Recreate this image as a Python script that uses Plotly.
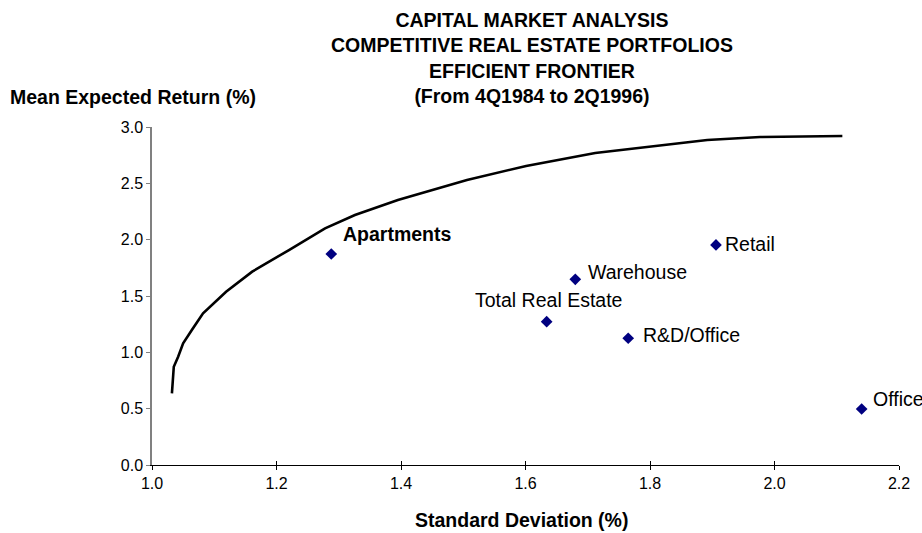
import plotly.graph_objects as go

# Efficient frontier (std dev %, mean return %)
frontier_sd = [1.032, 1.035, 1.042, 1.050, 1.064, 1.082, 1.119, 1.161, 1.220, 1.278,
               1.326, 1.395, 1.506, 1.601, 1.712, 1.892, 1.977, 2.109]
frontier_ret = [0.636, 0.872, 0.961, 1.080, 1.198, 1.346, 1.538, 1.716, 1.908, 2.101,
                2.219, 2.352, 2.530, 2.654, 2.769, 2.885, 2.911, 2.920]

# Portfolios
names = ["Apartments", "Retail", "Warehouse", "Total Real Estate", "R&D/Office", "Office"]
sd = [1.288, 1.906, 1.680, 1.634, 1.765, 2.140]
ret = [1.873, 1.953, 1.648, 1.272, 1.125, 0.497]

x_ticks = [1.0, 1.2, 1.4, 1.6, 1.8, 2.0, 2.2]
y_ticks = [0.0, 0.5, 1.0, 1.5, 2.0, 2.5, 3.0]

FONT = "Liberation Sans, Arial, sans-serif"

fig = go.Figure()
fig.add_trace(go.Scatter(x=frontier_sd, y=frontier_ret, mode="lines",
                         line=dict(color="black", width=2.6), hoverinfo="skip"))
fig.add_trace(go.Scatter(x=sd, y=ret, mode="markers",
                         marker=dict(symbol="diamond", size=9, color="#000080"),
                         text=names))
# dummy trace for overlay axis (crossing ticks)
fig.add_trace(go.Scatter(x=[None], y=[None], xaxis="x2", showlegend=False))

# label placement (text offsets in px)
label_cfg = {
    "Apartments": dict(xanchor="left", xshift=10, yshift=20, bold=True),
    "Retail": dict(xanchor="left", xshift=7, yshift=1, bold=False),
    "Warehouse": dict(xanchor="left", xshift=11, yshift=7, bold=False),
    "Total Real Estate": dict(xanchor="center", xshift=2, yshift=22, bold=False),
    "R&D/Office": dict(xanchor="left", xshift=13, yshift=3, bold=False),
    "Office": dict(xanchor="left", xshift=9, yshift=10, bold=False),
}
for n, xv, yv in zip(names, sd, ret):
    c = label_cfg[n]
    fig.add_annotation(x=xv, y=yv, xref="x", yref="y", showarrow=False,
                       text=f"<b>{n}</b>" if c["bold"] else n,
                       xanchor=c["xanchor"], yanchor="middle",
                       xshift=c["xshift"], yshift=c["yshift"],
                       font=dict(family=FONT, size=19.5, color="black"))

# titles
fig.add_annotation(xref="paper", yref="paper", x=0.5086, y=1.204, showarrow=False,
                   xanchor="center", yanchor="middle",
                   text="<b>CAPITAL MARKET ANALYSIS<br>COMPETITIVE REAL ESTATE PORTFOLIOS<br>"
                        "EFFICIENT FRONTIER<br>(From 4Q1984 to 2Q1996)</b>",
                   font=dict(family=FONT, size=19.5, color="black"))
fig.add_annotation(xref="paper", yref="paper", x=-0.193, y=1.0888, showarrow=False,
                   xanchor="left", yanchor="middle",
                   text="<b>Mean Expected Return (%)</b>",
                   font=dict(family=FONT, size=19.5, color="black"))
fig.add_annotation(xref="paper", yref="paper", x=0.494, y=-0.1627, showarrow=False,
                   xanchor="center", yanchor="middle",
                   text="<b>Standard Deviation (%)</b>",
                   font=dict(family=FONT, size=19.5, color="black"))

fig.update_layout(
    width=922, height=533,
    margin=dict(l=152, r=15, t=127, b=68),
    paper_bgcolor="white", plot_bgcolor="white",
    showlegend=False,
    font=dict(family=FONT, size=16, color="black"),
    xaxis=dict(range=[1.0, 2.2], tickvals=x_ticks, ticktext=[f"{v:.1f}" for v in x_ticks],
               showgrid=False, zeroline=False, showline=True, linecolor="black", linewidth=1,
               ticks="outside", ticklen=4, tickcolor="black", tickwidth=1,
               tickfont=dict(family=FONT, size=16, color="black")),
    xaxis2=dict(range=[1.0, 2.2], overlaying="x", anchor="y", side="bottom",
                tickvals=x_ticks, showticklabels=False, showgrid=False, zeroline=False,
                showline=False, ticks="inside", ticklen=4, tickcolor="black", tickwidth=1),
    yaxis=dict(range=[0, 3.0], tickvals=y_ticks, ticktext=[f"{v:.1f}" for v in y_ticks],
               showgrid=False, zeroline=False, showline=True, linecolor="#808080", linewidth=1.5,
               ticks="outside", ticklen=4, tickcolor="#808080", tickwidth=1,
               tickfont=dict(family=FONT, size=16, color="black")),
)

fig.write_html("out.html", config={"displayModeBar": False},
               post_script="document.body.style.margin='0';document.body.style.overflow='hidden';")
